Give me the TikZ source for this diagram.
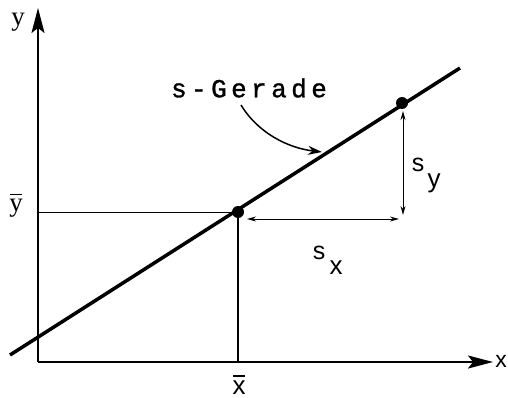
\documentclass[tikz,border=0pt]{standalone}
\usepackage{fontspec}
\setmainfont{Liberation Sans}
\newfontfamily\serifl{Liberation Serif}
\newfontfamily\gerfont[LetterSpace=17,FakeBold=1.2]{Liberation Mono}
\usetikzlibrary{arrows.meta}
\begin{document}
\begin{tikzpicture}[x=1pt,y=-1pt,
  lbl/.style={font=\fontsize{25}{25}\selectfont, inner sep=0pt},
  sublbl/.style={font=\fontsize{26}{26}\selectfont, inner sep=0pt},
  serlbl/.style={font=\serifl\fontsize{27}{27}\selectfont, inner sep=0pt},
  axis/.style={line width=2pt, -{Stealth[length=25pt,width=13pt,inset=5pt]}},
  thinline/.style={line width=1pt},
  barline/.style={line width=1.2pt},
  dim/.style={line width=1pt, {Stealth[length=9pt,width=5pt]}-{Stealth[length=9pt,width=5pt]}},
  dot/.style={circle, fill=black, inner sep=0pt, minimum size=12pt}]
\useasboundingbox (0,0) rectangle (508,398);
\coordinate (O) at (38,362);
\coordinate (ytip) at (38,8);
\coordinate (xtip) at (493,362);
\coordinate (A) at (10,355);
\coordinate (B) at (460,68);
\coordinate (ybarpt) at (38,212);
\coordinate (xbarpt) at (238,362);
\draw[axis] (O) -- (ytip);
\draw[axis] (O) -- (xtip);
\draw[line width=3.5pt] (A) -- (B);
\node[dot] (P) at (238,212) {};
\node[dot] (Q) at (402,103) {};
\draw[thinline] (ybarpt) -- (P.center);
\draw[line width=1.5pt] (P.center) -- (xbarpt);
\coordinate (sx1) at (247,219);
\coordinate (sx2) at (399,219);
\coordinate (sy1) at (403,111);
\coordinate (sy2) at (403,215);
\draw[dim] (sx1) -- (sx2);
\draw[dim] (sy1) -- (sy2);
\node[serlbl] (ylab) at (18,22) {y};
\node[lbl, font=\fontsize{23}{23}\selectfont] (xlab) at (501,361) {x};
\node[serlbl, anchor=base] (ybar) at (16,211) {y};
\draw[barline] ([xshift=-6pt,yshift=4pt]ybar.north) -- ([xshift=6pt,yshift=4pt]ybar.north);
\node[sublbl, anchor=base] (xbar) at (239,394) {x};
\draw[barline] ([xshift=-6pt,yshift=4pt]xbar.north) -- ([xshift=6pt,yshift=4pt]xbar.north);
\node[lbl] (sxs) at (319,253) {s};
\node[sublbl] (sxx) at (336,268) {x};
\node[lbl] (sys) at (418,165) {s};
\node[sublbl] (syy) at (434,183) {y};
\node[inner sep=0pt, font=\gerfont\fontsize{26}{26}\selectfont] (ger) at (249,88) {s-Gerade};
\coordinate (c1) at (241,105);
\coordinate (c2) at (322,152);
\draw[line width=1.5pt, -{Stealth[length=14pt,width=9pt]}] (c1) .. controls (258,133) and (288,148) .. (c2);
\end{tikzpicture}
\end{document}
